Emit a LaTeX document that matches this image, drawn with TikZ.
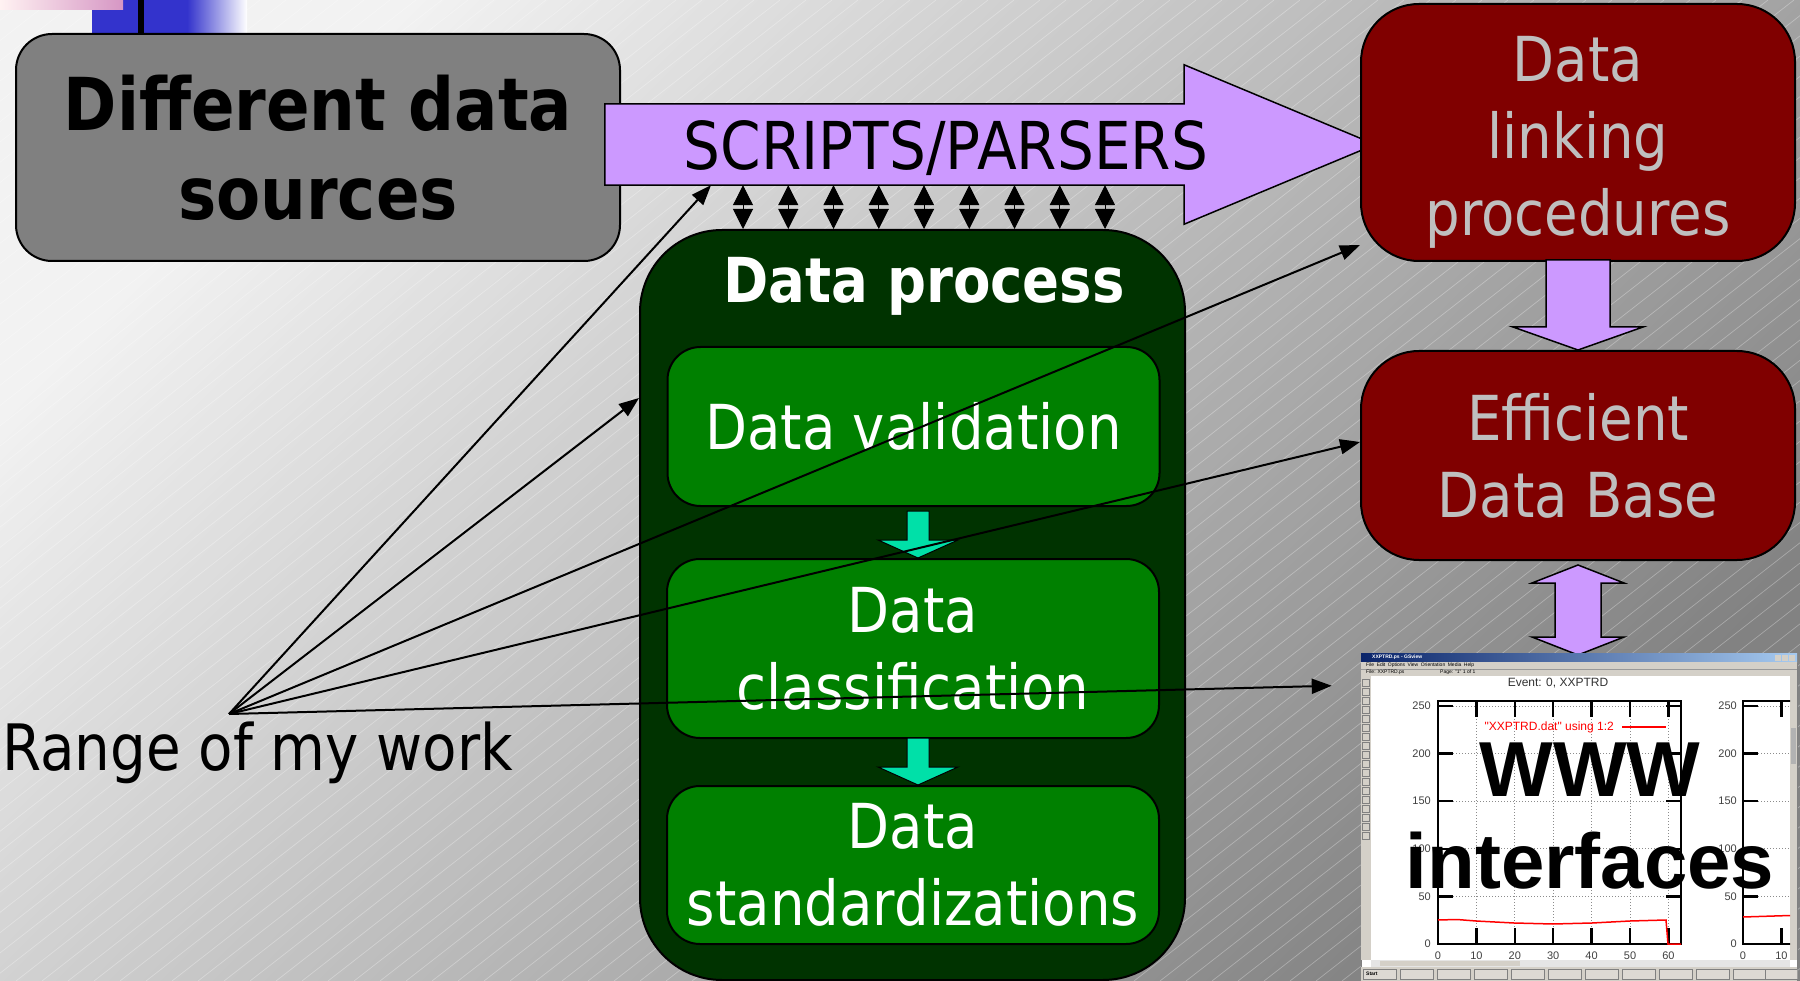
\documentclass[tikz,border=0pt]{standalone}
\usepackage{fontspec}
\setmainfont{DejaVu Sans}[FakeStretch=0.88]
\newfontfamily\arialfont{Liberation Sans}
\usetikzlibrary{arrows.meta, calc}

\definecolor{slidepurple}{HTML}{CC99FF}
\definecolor{procgreen}{HTML}{003300}
\definecolor{stepgreen}{HTML}{008000}
\definecolor{flowgreen}{HTML}{00E0A8}
\definecolor{linkred}{HTML}{800000}
\definecolor{winface}{HTML}{D4D0C8}
\definecolor{barblue}{HTML}{3333CC}

\begin{document}
\begin{tikzpicture}[x=1pt, y=-1pt,
    slidebox/.style={draw=black, line width=2pt, inner sep=0pt, align=center},
    sourcebox/.style={slidebox, fill=gray, rounded corners=36pt,
        font=\bfseries\fontsize{73}{89}\selectfont},
    stepbox/.style={slidebox, fill=stepgreen, rounded corners=33pt, text=white,
        minimum width=492pt, font=\fontsize{62}{77}\selectfont},
    redbox/.style={slidebox, fill=linkred, rounded corners=58pt, text=lightgray,
        minimum width=434pt, font=\fontsize{62}{77}\selectfont},
    purplearrow/.style={draw=black, line width=1.5pt, fill=slidepurple},
    flowarrow/.style={draw=black, line width=1pt, fill=flowgreen},
    pointer/.style={line width=2pt, -{Triangle[length=20pt, width=15pt]}},
    exchange/.style={line width=1pt, {Triangle[length=20pt, width=20pt]}-{Triangle[length=20pt, width=20pt]}},
    tiny/.style={inner sep=0pt, anchor=west, font=\arialfont\fontsize{5}{5}\selectfont},
    ticklabel/.style={inner sep=0pt, text=black!75, font=\arialfont\fontsize{11}{11}\selectfont},
]
    \useasboundingbox (0,0) rectangle (1800,981);
    % background
    \shade[top color=black!5, bottom color=black!49, shading angle=45] (0,0) rectangle (1800,981);
    \begin{scope}
        \clip (0,0) rectangle (1800,981);
        \foreach \k in {0,26,...,3100}
            \draw[white, opacity=0.3, line width=0.7pt] (\k,0) -- ++(-1258,981);
    \end{scope}
    \fill[barblue] (92,0) rectangle (187,34);
    \shade[left color=barblue, right color=white] (187,0) rectangle (247,34);
    \fill[black] (138,0) rectangle (144,34);
    \shade[left color=red!5, right color={rgb,255:red,214;green,150;blue,196}] (0,0) rectangle (123,10);

    % sources and scripts
    \node[sourcebox, minimum width=604pt, minimum height=227pt] (sources) at (318,147.5) {Different data\\sources};
    \node[inner sep=0pt, minimum width=579pt, minimum height=81pt] (body) at (894.5,144.5) {};
    \draw[purplearrow] (body.south west) -- (body.north west) -- (body.north east) -- ++(0,-39)
        -- ([xshift=191pt]body.east) -- ([yshift=-39pt]body.south east) -- (body.south east) -- cycle;
    \node[inner sep=0pt, anchor=base, font=\fontsize{66}{70}\selectfont] (scripts) at (946,170) {SCRIPTS/PARSERS};

    % data process
    \node[slidebox, fill=procgreen, rounded corners=82pt, minimum width=545pt, minimum height=750pt] (proc) at (912.5,605) {};
    \node[inner sep=0pt, anchor=base, text=white, font=\bfseries\fontsize{62}{70}\selectfont] (proc-title) at (924,303) {Data process};
    \foreach \i in {0,...,8}
        \draw[exchange] ({743+45.25*\i},0 |- body.south) -- ({743+45.25*\i},0 |- proc.north);
    \node[stepbox, minimum height=159pt] (val) at (913.5,426.5) {Data validation};
    \node[stepbox, minimum height=179pt] (cls) at (913,648.5) {Data\\classification};
    \node[stepbox, minimum height=158pt] (std) at (913,865) {Data\\standardizations};
    \foreach \nxt in {cls, std}
        \draw[flowarrow] ([xshift=5pt]\nxt.north) -- ++(-40,-18) -- ++(29,0) -- ++(0,-29)
            -- ++(22,0) -- ++(0,29) -- ++(29,0) -- cycle;

    % linking and data base
    \node[redbox, minimum height=257pt,
        label={[name=link-text, inner sep=0pt, align=center, text=lightgray, yshift=-9.5pt,
            font=\fontsize{62}{77}\selectfont]center:Data\\linking\\procedures}] (link) at (1578,132.5) {};
    \node[redbox, minimum height=209pt] (dbase) at (1578,455.5) {Efficient\\Data Base};
    \draw[purplearrow] (dbase.north) -- ++(-65,-23) -- ++(33,0) -- ++(0,-67) -- ++(64,0)
        -- ++(0,67) -- ++(33,0) -- cycle;
    \draw[purplearrow] ([yshift=-4pt]dbase.south) -- ++(46,18) -- ++(-23,0) -- ++(0,54) -- ++(23,0)
        -- ++(-46,18) -- ++(-46,-18) -- ++(23,0) -- ++(0,-54) -- ++(-23,0) -- cycle;

    % www screenshot
    \node[draw=black!50, line width=0.5pt, fill=white, inner sep=0pt, minimum width=436pt, minimum height=328pt] (screen) at (1579,817) {};
    \begin{scope}
        \clip (screen.north west) rectangle (screen.south east);
        \shade[left color={rgb,255:red,10;green,36;blue,106}, right color={rgb,255:red,166;green,202;blue,240}] (1361,653) rectangle (1797,662);
        \node[tiny, text=white] (win-title) at (1372,657.5) {\bfseries XXPTRD.ps - GSview};
        \fill[winface] (1361,662) rectangle (1797,676);
        \draw[black!40, line width=0.4pt] (1361,669) -- (1797,669);
        \node[tiny] (win-menu) at (1366,665.5) {File\enspace Edit\enspace Options\enspace View\enspace Orientation\enspace Media\enspace Help};
        \node[tiny] (win-file) at (1366,672.5) {File: XXPTRD.ps};
        \node[tiny] (win-page) at (1440,672.5) {Page: "1" 1 of 1};
        \foreach \b in {1775,1782,1789}
            \fill[winface] (\b,655) rectangle ++(6,6);
        \fill[winface] (1361,676) rectangle (1371,960);
        \foreach \t in {679,688,...,840}
            \draw[black!50, line width=0.5pt] (1362.5,\t) rectangle ++(7,7);
        \fill[winface] (1790,676) rectangle (1797,960);
        \fill[black!30] (1791,728) rectangle (1796,764);
        \fill[black!10] (1371,960) rectangle (1790,967);
        \fill[winface] (1380,961) rectangle (1520,966);
        \fill[winface] (1361,967) rectangle (1797,981);
        \foreach \b in {1363,1400,1437,1474,1511,1548,1585,1622,1659,1696,1733,1765}
            \draw[black!50, line width=0.5pt, fill=winface!80] (\b,969) rectangle ++(33,10);
        \node[tiny, font=\arialfont\bfseries\fontsize{5}{5}\selectfont] (win-start) at (1366,974) {Start};
        % plots
        \clip (1371,676) rectangle (1790,960);
        \node[inner sep=0pt, text=black!80, font=\arialfont\fontsize{12}{12}\selectfont] (plot-title) at (1558,683) {Event: 0, XXPTRD};
        \foreach \u in {10,20,...,60}
            \draw[black!45, dotted, line width=1pt] ({1438+3.84*\u},701) -- ({1438+3.84*\u},944);
        \foreach \v in {50,100,...,250} {
            \draw[black!45, dotted, line width=1pt] (1438,{944-0.952*\v}) -- (1681,{944-0.952*\v});
            \draw[black!45, dotted, line width=1pt] (1743,{944-0.952*\v}) -- (1790,{944-0.952*\v});
        }
        \draw[line width=2.5pt] (1438,701) rectangle (1681,944);
        \draw[line width=2.5pt] (1900,701) -| (1743,944) -- (1900,944);
        \foreach \u in {0,10,...,60} {
            \draw[line width=2.5pt] ({1438+3.84*\u},944) -- ++(0,-16) ({1438+3.84*\u},701) -- ++(0,16);
            \node[ticklabel] (xl\u) at ({1438+3.84*\u},956) {\u};
        }
        \foreach \u in {0,10} {
            \draw[line width=2.5pt] ({1743+3.84*\u},944) -- ++(0,-16) ({1743+3.84*\u},701) -- ++(0,16);
            \node[ticklabel] (xr\u) at ({1743+3.84*\u},956) {\u};
        }
        \foreach \v in {0,50,...,250} {
            \draw[line width=2.5pt] (1438,{944-0.952*\v}) -- ++(15,0) (1681,{944-0.952*\v}) -- ++(-15,0)
                (1743,{944-0.952*\v}) -- ++(15,0);
            \node[ticklabel, anchor=east] (yl\v) at (1431,{944-0.952*\v}) {\v};
            \node[ticklabel, anchor=east] (yr\v) at (1737,{944-0.952*\v}) {\v};
        }
        \node[inner sep=0pt, anchor=east, text=red, font=\arialfont\fontsize{12}{12}\selectfont] (key) at (1614,727) {"XXPTRD.dat" using 1:2};
        \draw[red, line width=2pt] ([xshift=8pt]key.east) -- ++(44,0);
        \draw[red, line width=1.5pt] (1438,920) -- (1457,919.5) -- (1476,921) -- (1514,923) -- (1553,924)
            -- (1592,923) -- (1630,921) -- (1666,920) -- (1668,944) -- (1681,944);
        \draw[red, line width=1.5pt] (1743,917) -- (1790,915.5);
    \end{scope}
    \node[inner sep=0pt, align=center, font=\arialfont\bfseries\fontsize{78}{92}\selectfont] (www) at (1590,816) {WWW\\interfaces};

    % range of my work
    \node[inner sep=0pt, anchor=base west, font=\fontsize{64}{70}\selectfont] (work) at (2,770) {Range of my work};
    \coordinate (me) at (229,714);
    \draw[pointer] (me) -- (711,0 |- body.south);
    \draw[pointer] (me) -- (proc.west |- 0,398);
    \draw[pointer] (me) -- (link.west |- 0,245);
    \draw[pointer] (me) -- (dbase.west |- 0,442);
    \draw[pointer, shorten >=29pt] (me) -- (screen.west |- 0,685);
\end{tikzpicture}
\end{document}
